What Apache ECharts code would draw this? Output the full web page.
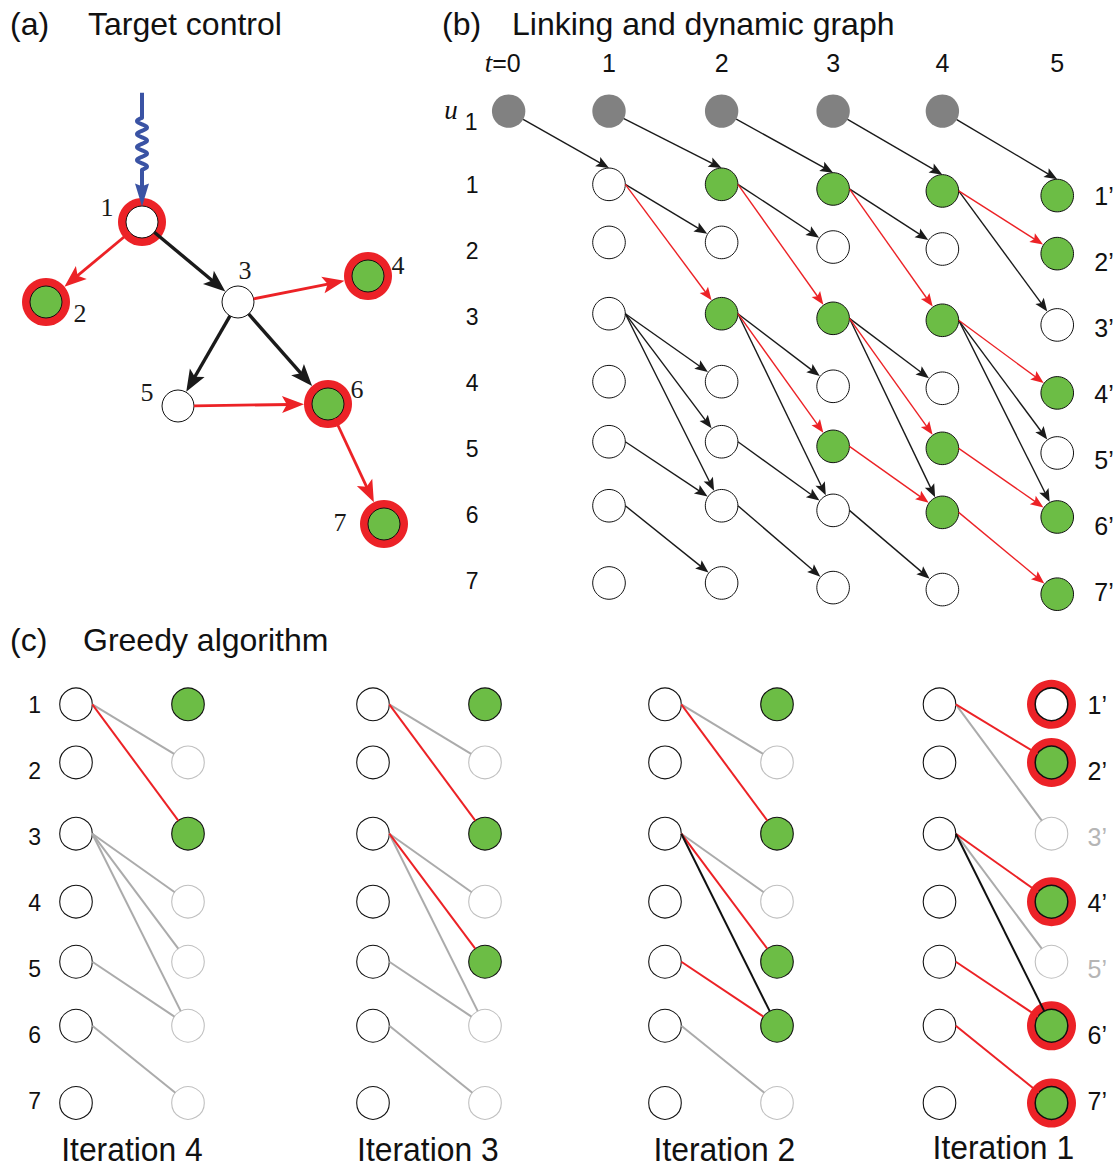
<!DOCTYPE html>
<html>
<head>
<meta charset="utf-8">
<title>Target control, linking and dynamic graph, greedy algorithm</title>
<script src="https://cdn.jsdelivr.net/npm/echarts@6/dist/echarts.min.js"></script>
<style>
  html, body { margin: 0; padding: 0; background: #ffffff; }
  #chart { width: 1117px; height: 1168px; }
</style>
</head>
<body>
<div id="chart"></div>
<script>
// ---------------- (a) target control network ----------------
const netNodes = ['1', '2', '3', '4', '5', '6', '7'];
const netLayoutX = [3.0, 0.6, 5.4, 8.65, 3.9, 7.65, 9.05];
const netLayoutY = [4.0, 6.0, 6.0, 5.35, 8.6, 8.55, 11.55];
const netTargets = ['2', '4', '6', '7'];
const netDriver = '1';
const netLinks = [['1', '2'], ['1', '3'], ['3', '4'], ['3', '5'], ['3', '6'], ['5', '6'], ['6', '7']];
const netControlPaths = [['1', '2'], ['3', '4'], ['5', '6'], ['6', '7']];
const netInputStart = [3.0, 0.77];

// ---------------- (b) linking and dynamic graph ----------------
const timeSteps = [0, 1, 2, 3, 4, 5];
const stateSteps = [1, 2, 3, 4, 5];
const stateRows = [1, 2, 3, 4, 5, 6, 7];
const inputSteps = [0, 1, 2, 3, 4];
const greenByStep = [[], [], [1, 3], [1, 3, 5], [1, 3, 5, 6], [1, 2, 4, 6, 7]];
const redByStep = [[], [[1, 3]], [[1, 3], [3, 5]], [[1, 3], [3, 5], [5, 6]], [[1, 2], [3, 4], [5, 6], [6, 7]]];

// ---------------- (c) greedy algorithm ----------------
const iterations = [4, 3, 2, 1];
const iterGreen = [[1, 3], [1, 3, 5], [1, 3, 5, 6], [2, 4, 6, 7]];
const iterFaded = [[2, 4, 5, 6, 7], [2, 4, 6, 7], [2, 4, 7], [3, 5]];
const iterRinged = [[], [], [], [1, 2, 4, 6, 7]];
const iterRed = [[[1, 3]], [[1, 3], [3, 5]], [[1, 3], [3, 5], [5, 6]], [[1, 2], [3, 4], [5, 6], [6, 7]]];
const iterBlack = [[], [], [[3, 6]], [[3, 6]]];

// ---------------- drawing layout (axis units) ----------------
const rowLevel = [0.99, 1.87, 2.95, 3.98, 4.89, 5.86, 7.03];
const stepLevel = [0.1, 1, 2.01, 3.01, 3.99, 5.02];
const stepDrift = [0, 0, 0, 0.07, 0.1, 0.17];
const inputLevel = -0.12;
const iterLabelX = [0.5, 0.49, 0.53, 0.57];

const SANS = '"Liberation Sans", Arial, Helvetica, sans-serif';
const SERIF = '"Liberation Serif", "Times New Roman", serif';
const C = {
  green: '#6cbd45', ring: '#ec2227', red: '#ec2226', black: '#1a1a1a',
  input: '#818181', faded: '#c0c0c0', fadedLine: '#ababab', blue: '#3a53a4', text: '#111111'
};

const hasPair = (list, u, v) => list.some(p => p[0] === u && p[1] === v);

function unit(p, q) {
  const dx = q[0] - p[0], dy = q[1] - p[1];
  const l = Math.hypot(dx, dy) || 1;
  return [dx / l, dy / l];
}

// line (straight or wavy) plus optional notched arrowhead
function arrowParts(s, tip, st) {
  const u = unit(s, tip);
  const n = [-u[1], u[0]];
  const parts = [];
  let end = tip;
  if (st.head) {
    const L = st.head[0], W = st.head[1], notch = st.head[2];
    const base = [tip[0] - u[0] * L, tip[1] - u[1] * L];
    const mid = [tip[0] - u[0] * L * notch, tip[1] - u[1] * L * notch];
    end = [tip[0] - u[0] * L * 0.6, tip[1] - u[1] * L * 0.6];
    parts.push({
      type: 'polygon',
      shape: { points: [tip, [base[0] + n[0] * W, base[1] + n[1] * W], mid, [base[0] - n[0] * W, base[1] - n[1] * W]] },
      style: { fill: st.color }
    });
  }
  if (st.wavy) {
    const total = Math.hypot(end[0] - s[0], end[1] - s[1]);
    const pre = st.wavy[0], span = st.wavy[1], periods = st.wavy[2], amp = st.wavy[3];
    const pts = [s];
    const steps = 80;
    for (let i = 0; i <= steps; i++) {
      const d = pre + span * i / steps;
      const off = amp * Math.sin(2 * Math.PI * periods * i / steps);
      pts.push([s[0] + u[0] * d + n[0] * off, s[1] + u[1] * d + n[1] * off]);
    }
    pts.push([s[0] + u[0] * total, s[1] + u[1] * total]);
    parts.unshift({ type: 'polyline', shape: { points: pts }, style: { stroke: st.color, lineWidth: st.width, fill: 'none', lineJoin: 'round' } });
  } else {
    parts.unshift({
      type: 'line',
      shape: { x1: s[0], y1: s[1], x2: end[0], y2: end[1] },
      style: { stroke: st.color, lineWidth: st.width, lineCap: 'butt' }
    });
  }
  return parts;
}

function edgeSeries(idx, items, z) {
  return {
    type: 'custom', xAxisIndex: idx, yAxisIndex: idx, z: z, silent: true, clip: false,
    data: items.map(e => [e.a[0], e.a[1], e.b[0], e.b[1]]),
    encode: { x: [0, 2], y: [1, 3] },
    renderItem(params, api) {
      const e = items[params.dataIndex];
      const a = api.coord([api.value(0), api.value(1)]);
      const b = api.coord([api.value(2), api.value(3)]);
      const aim = e.end === 'top' ? [b[0], b[1] - e.r1] : b;
      let s;
      if (e.start === 'right') s = [a[0] + e.r0, a[1]];
      else { const u = unit(a, aim); s = [a[0] + u[0] * e.r0, a[1] + u[1] * e.r0]; }
      let tip;
      if (e.end === 'top') tip = aim;
      else { const u = unit(s, b); tip = [b[0] - u[0] * e.r1, b[1] - u[1] * e.r1]; }
      return { type: 'group', children: arrowParts(s, tip, e) };
    }
  };
}

function nodeSeries(idx, items, z) {
  return {
    type: 'custom', xAxisIndex: idx, yAxisIndex: idx, z: z, silent: true, clip: false,
    data: items.map(nd => [nd.x, nd.y]),
    encode: { x: 0, y: 1 },
    renderItem(params, api) {
      const nd = items[params.dataIndex];
      const p = api.coord([api.value(0), api.value(1)]);
      const children = [];
      if (nd.ring) children.push({ type: 'circle', shape: { cx: p[0], cy: p[1], r: nd.ring }, style: { fill: C.ring } });
      children.push({
        type: 'circle', shape: { cx: p[0], cy: p[1], r: nd.r },
        style: { fill: nd.fill, stroke: nd.stroke, lineWidth: nd.lw }
      });
      return { type: 'group', children };
    }
  };
}

function textSeries(idx, items, z) {
  return {
    type: 'custom', xAxisIndex: idx, yAxisIndex: idx, z: z, silent: true, clip: false,
    data: items.map(t => [t.x, t.y]),
    encode: { x: 0, y: 1 },
    renderItem(params, api) {
      const t = items[params.dataIndex];
      const p = api.coord([api.value(0), api.value(1)]);
      return {
        type: 'text', x: p[0] + (t.dx || 0), y: p[1] + (t.dy || 0), scaleX: t.scaleX || 1,
        style: Object.assign({
          text: t.text, x: 0, y: 0, fill: t.color || C.text,
          align: t.align || 'center', verticalAlign: 'middle'
        }, t.font)
      };
    }
  };
}

// ---------------- (a) build ----------------
const netPos = id => [netLayoutX[netNodes.indexOf(id)], netLayoutY[netNodes.indexOf(id)]];
const ringedA = id => id === netDriver || netTargets.includes(id);
const aNodes = netNodes.map(id => ({
  x: netPos(id)[0], y: netPos(id)[1], r: 16, lw: 1, stroke: '#111',
  fill: netTargets.includes(id) ? C.green : '#ffffff',
  ring: ringedA(id) ? 24 : 0
}));
const aEdges = netLinks.map(([u, v]) => {
  const red = hasPair(netControlPaths, u, v);
  return {
    a: netPos(u), b: netPos(v), color: red ? C.red : C.black, width: red ? 2.8 : 3.4,
    head: [22, 8.5, 0.78], start: 'dir', end: 'edge', r0: 16, r1: ringedA(v) ? 24 : 16.5
  };
});
aEdges.push({
  a: netInputStart, b: netPos(netDriver), color: C.blue, width: 4, head: [23, 7, 0.88],
  wavy: [25, 52, 4, 5], start: 'dir', end: 'edge', r0: 0, r1: 15.5
});
const aLabelOffset = { '1': [-35, -15], '2': [34, 11], '3': [7, -32], '4': [30, -11], '5': [-31, -14], '6': [29, -15], '7': [-44, -2] };
const aLabels = netNodes.map(id => ({
  x: netPos(id)[0], y: netPos(id)[1], dx: aLabelOffset[id][0], dy: aLabelOffset[id][1],
  text: id, color: '#1a1a1a', font: { fontSize: 26, fontFamily: SERIF }
}));

// ---------------- (b) build ----------------
const stateY = (t, r) => rowLevel[r - 1] + stepDrift[t];
const bNodes = [];
inputSteps.forEach(t => bNodes.push({ x: stepLevel[t], y: inputLevel, r: 16.7, fill: C.input, stroke: 'none', lw: 0 }));
stateSteps.forEach(t => stateRows.forEach(r => bNodes.push({
  x: stepLevel[t], y: stateY(t, r), r: 16.3, lw: 1, stroke: '#111',
  fill: greenByStep[t].includes(r) ? C.green : '#ffffff'
})));
const bEdges = [];
inputSteps.forEach(t => bEdges.push({
  a: [stepLevel[t], inputLevel], b: [stepLevel[t + 1], stateY(t + 1, 1)],
  color: C.black, width: 1.4, head: [13, 5.2, 0.8], start: 'dir', end: 'top', r0: 16.7, r1: 16.3
}));
const bRed = [];
stateSteps.filter(t => t < 5).forEach(t => netLinks.forEach(([u, v]) => {
  const iu = +u, iv = +v;
  const red = hasPair(redByStep[t], iu, iv);
  (red ? bRed : bEdges).push({
    a: [stepLevel[t], stateY(t, iu)], b: [stepLevel[t + 1], stateY(t + 1, iv)],
    color: red ? C.red : C.black, width: 1.4, head: [13, 5.2, 0.8],
    start: 'right', end: 'edge', r0: 16.3, r1: 16.8
  });
}));
const bAllEdges = bEdges.concat(bRed);
const headerLevel = -0.85;
const bTexts = timeSteps.map(t => ({
  x: stepLevel[t], y: headerLevel, dx: t === 0 ? -6 : 0,
  text: t === 0 ? '{i|t}{n|=0}' : String(t),
  font: t === 0
    ? { rich: { i: { fontStyle: 'italic', fontFamily: SERIF, fontSize: 27, fill: C.text }, n: { fontFamily: SANS, fontSize: 25, fill: C.text } } }
    : { fontSize: 25, fontFamily: SANS }
}));
bTexts.push({ x: stepLevel[0], y: inputLevel, dx: -57.6, dy: -1.5, text: 'u', font: { fontSize: 27, fontStyle: 'italic', fontFamily: SERIF } });
bTexts.push({ x: stepLevel[0], y: inputLevel, dx: -37.6, dy: 10.7, text: '1', font: { fontSize: 23, fontFamily: SANS } });
stateRows.forEach(r => bTexts.push({
  x: stepLevel[5], y: r + 0.17, dx: 37, align: 'left', text: r + '\u2019', font: { fontSize: 25, fontFamily: SANS }
}));

// ---------------- (c) build ----------------
const cSeries = [];
iterations.forEach((it, k) => {
  const idx = 2 + k;
  const nodes = [];
  stateRows.forEach(r => nodes.push({ x: 0, y: rowLevel[r - 1], r: 16.3, lw: 1.1, stroke: '#111', fill: '#ffffff' }));
  stateRows.forEach(r => {
    const faded = iterFaded[k].includes(r);
    nodes.push({
      x: 1, y: rowLevel[r - 1], r: 16.3,
      lw: faded ? 1.1 : (iterRinged[k].includes(r) ? 1.5 : 1.1),
      stroke: faded ? C.faded : '#111',
      fill: iterGreen[k].includes(r) ? C.green : '#ffffff',
      ring: iterRinged[k].includes(r) ? 24.5 : 0
    });
  });
  const gray = [], red = [], black = [];
  netLinks.forEach(([u, v]) => {
    const iu = +u, iv = +v;
    const isRed = hasPair(iterRed[k], iu, iv), isBlack = hasPair(iterBlack[k], iu, iv);
    const e = {
      a: [0, rowLevel[iu - 1]], b: [1, rowLevel[iv - 1]],
      color: isRed ? C.red : (isBlack ? '#111111' : C.fadedLine), width: 2,
      start: 'right', end: 'edge', r0: 16.3, r1: 16.3
    };
    (isRed ? red : (isBlack ? black : gray)).push(e);
  });
  cSeries.push(nodeSeries(idx, nodes, 2));
  cSeries.push(edgeSeries(idx, gray.concat(red, black), 3));
  cSeries.push(textSeries(idx, [{
    x: iterLabelX[k], y: it === 1 ? 7.71 : 7.74, text: 'Iteration ' + it, scaleX: 0.965,
    font: { fontSize: 33, fontFamily: SANS }
  }], 4));
});

// ---------------- axes ----------------
const hiddenX = (g, min, max) => ({ type: 'value', gridIndex: g, min, max, show: false });
const hiddenY = (g, min, max) => ({ type: 'value', gridIndex: g, min, max, inverse: true, show: false });
const rowAxis = (g, min, max, margin, position, fmt, color) => ({
  type: 'value', gridIndex: g, min, max, interval: 1, inverse: true, position,
  axisLine: { show: false }, axisTick: { show: false }, splitLine: { show: false },
  axisLabel: {
    show: true, margin, fontSize: position === 'right' ? 25 : 23, fontFamily: SANS,
    color: color || C.text, formatter: fmt
  }
});
const rowFmt = v => (v >= 1 && v <= 7 ? String(v) : '');
const primeFmt = v => (v >= 1 && v <= 7 ? v + '\u2019' : '');
const primeColor = v => (iterFaded[3].includes(Number(v)) ? '#b5b5b5' : C.text);

const cLeft = [76, 373, 665, 939.5];

const option = {
  animation: false,
  backgroundColor: '#ffffff',
  grid: [
    { left: 22, top: 62, width: 400, height: 480 },
    { left: 497.5, top: 53, width: 557.5, height: 594 }
  ].concat(cLeft.map(l => ({ left: l, top: 639, width: 112, height: 528 }))),
  xAxis: [hiddenX(0, 0, 10), hiddenX(1, 0, 5)].concat(cLeft.map((l, i) => hiddenX(2 + i, 0, 1))),
  yAxis: [
    hiddenY(0, 0, 12),
    rowAxis(1, -1, 8, 19, 'left', rowFmt),
    rowAxis(2, 0, 8, 35, 'left', rowFmt),
    hiddenY(3, 0, 8),
    hiddenY(4, 0, 8),
    hiddenY(5, 0, 8),
    rowAxis(5, 0, 8, 36, 'right', primeFmt, primeColor)
  ],
  graphic: [
    { type: 'text', x: 10, y: 24, style: { text: '(a)', fontSize: 32, fontFamily: SANS, fill: C.text, verticalAlign: 'middle' } },
    { type: 'text', x: 88, y: 24, style: { text: 'Target control', fontSize: 32, fontFamily: SANS, fill: C.text, verticalAlign: 'middle' } },
    { type: 'text', x: 442, y: 24, style: { text: '(b)', fontSize: 32, fontFamily: SANS, fill: C.text, verticalAlign: 'middle' } },
    { type: 'text', x: 512, y: 24, style: { text: 'Linking and dynamic graph', fontSize: 32, fontFamily: SANS, fill: C.text, verticalAlign: 'middle' } },
    { type: 'text', x: 10, y: 640, style: { text: '(c)', fontSize: 32, fontFamily: SANS, fill: C.text, verticalAlign: 'middle' } },
    { type: 'text', x: 83, y: 640, style: { text: 'Greedy algorithm', fontSize: 32, fontFamily: SANS, fill: C.text, verticalAlign: 'middle' } }
  ],
  series: [
    nodeSeries(0, aNodes, 2),
    edgeSeries(0, aEdges, 3),
    textSeries(0, aLabels, 4),
    nodeSeries(1, bNodes, 2),
    edgeSeries(1, bAllEdges, 3),
    textSeries(1, bTexts, 4)
  ].concat(cSeries)
};

const chart = echarts.init(document.getElementById('chart'), null, { renderer: 'svg', width: 1117, height: 1168 });
chart.setOption(option);
</script>
</body>
</html>
